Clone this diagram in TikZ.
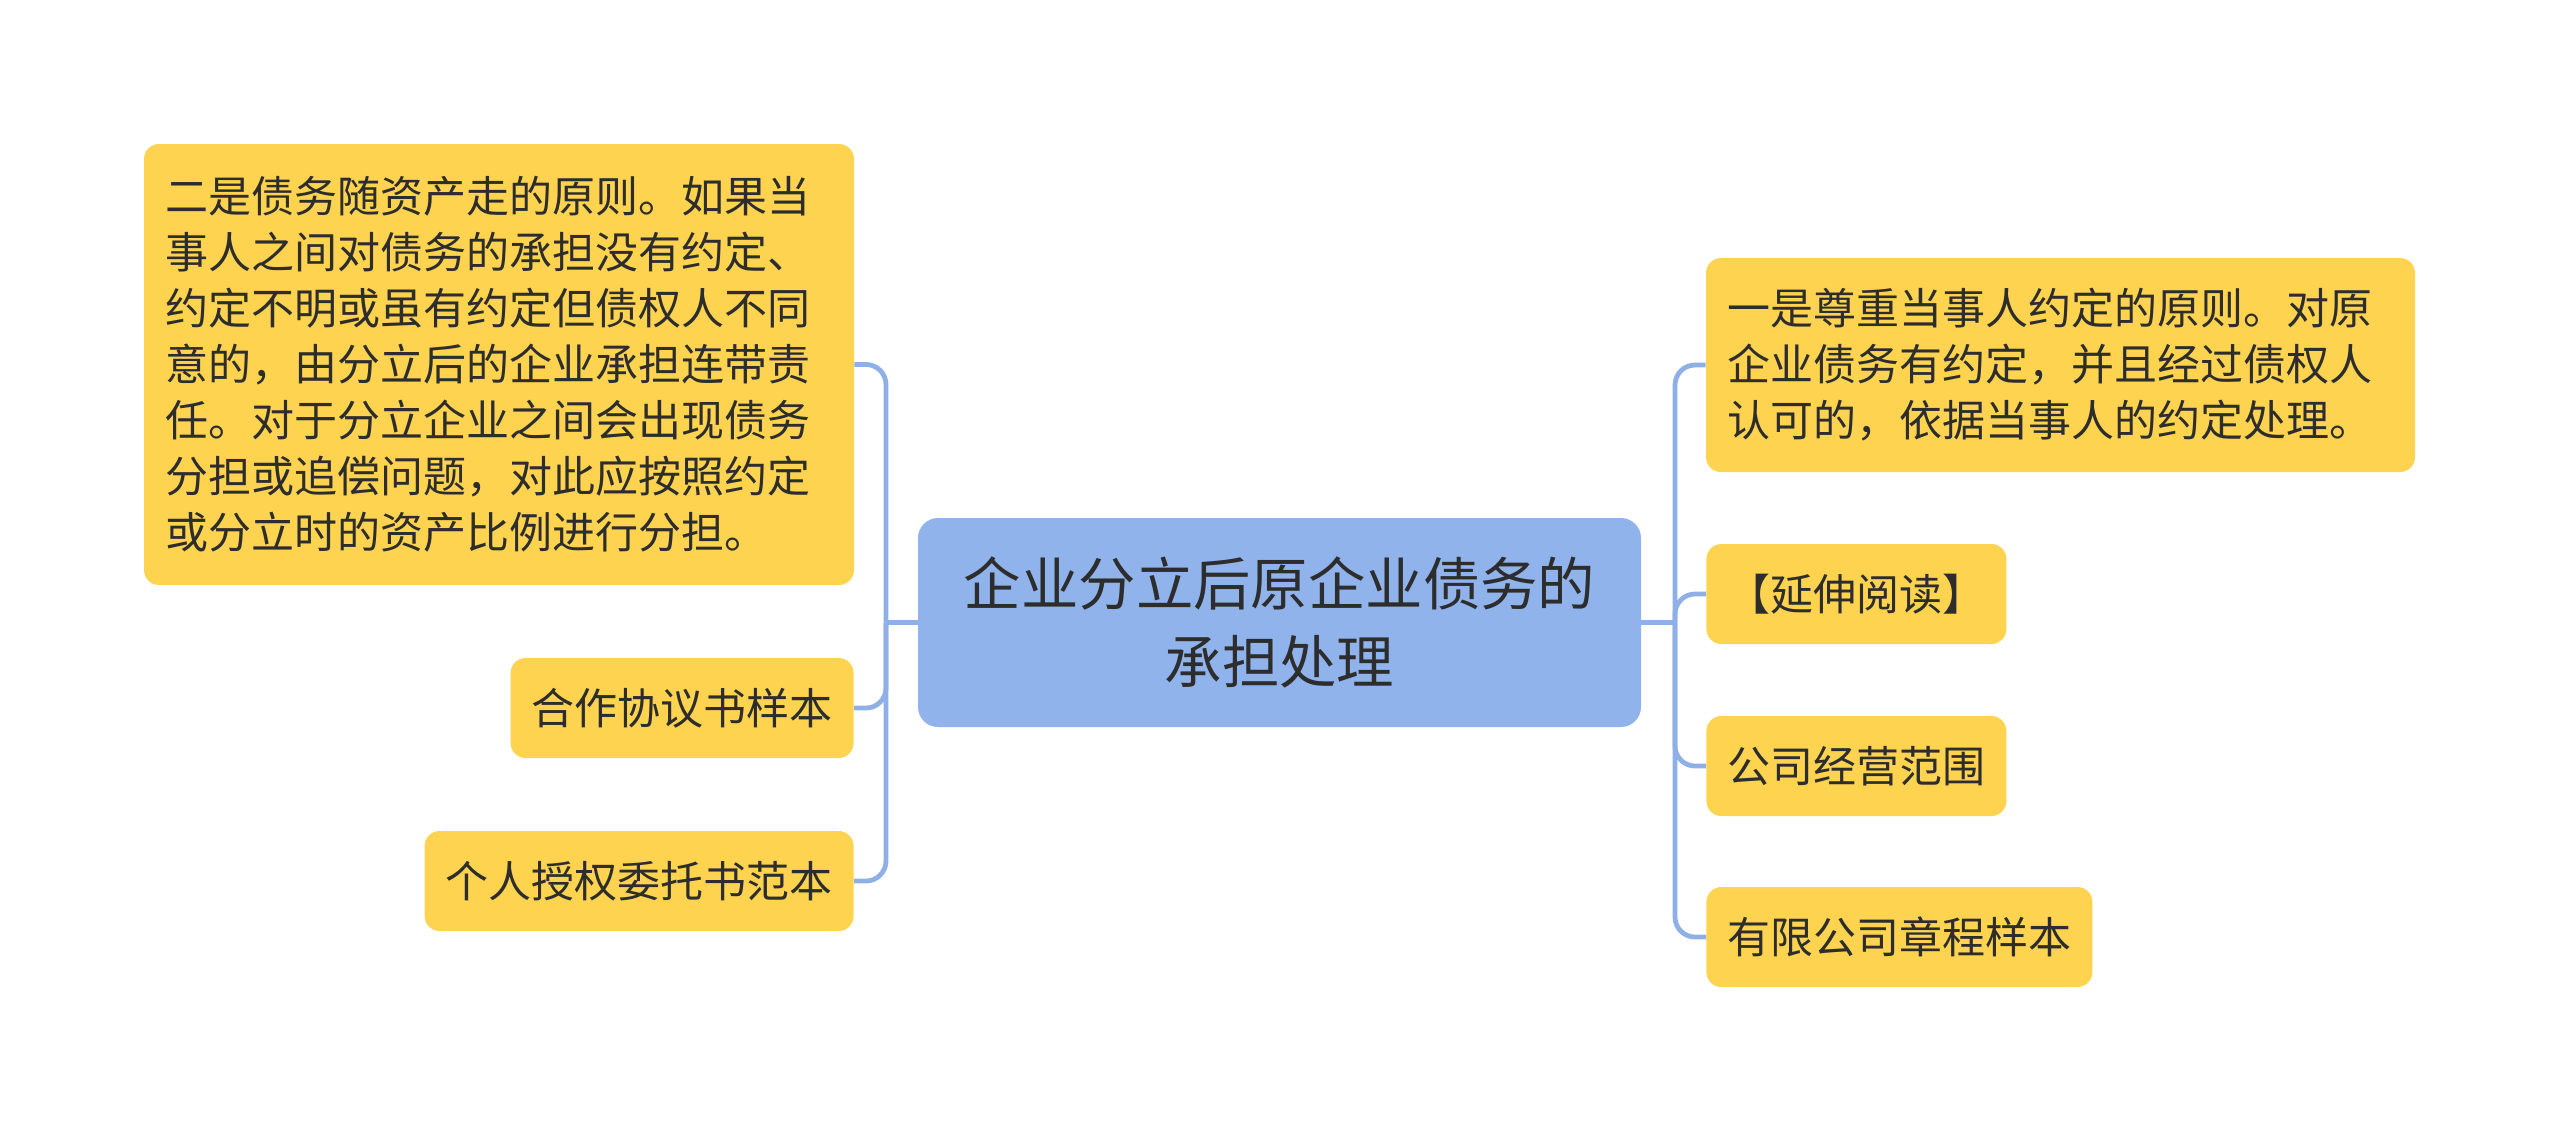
\documentclass[tikz,border=0pt]{standalone}
\usepackage{fontspec}
\setmainfont{Noto Sans CJK SC}
\usepackage{tikz}
\usetikzlibrary{positioning}
\definecolor{leafyellow}{RGB}{253,211,80}
\definecolor{rootblue}{RGB}{143,179,234}
\definecolor{linkblue}{RGB}{143,176,230}
\definecolor{inkgray}{RGB}{45,45,45}

\begin{document}
\begin{tikzpicture}[x=0.5pt,y=-0.5pt]
  \tikzset{
    leaf/.style={fill=leafyellow, text=inkgray, rounded corners=7.5pt,
          inner xsep=10.5pt, inner ysep=0pt, minimum height=50pt,
          font=\fontsize{21.5}{28}\selectfont},
    bigleaf/.style={leaf, align=left, inner xsep=10.5pt},
    root/.style={fill=rootblue, text=inkgray, rounded corners=10pt,
          align=center, minimum width=361.5pt, minimum height=104.5pt,
          font=\fontsize{28.7}{39}\selectfont},
    link/.style={draw=linkblue, line width=2.4pt, rounded corners=10pt}
  }

  \useasboundingbox (0,0) rectangle (2560,1132);

  \node[root] (topic) at (1279.5,622.5) {企业分立后原企业债务的\\承担处理};

  % left side
  \node[bigleaf, text width=334pt, minimum width=355pt, minimum height=220.5pt]
        (second) at (499,364.5) {二是债务随资产走的原则。如果当\\事人之间对债务的承担没有约定、\\约定不明或虽有约定但债权人不同\\意的，由分立后的企业承担连带责\\任。对于分立企业之间会出现债务\\分担或追偿问题，对此应按照约定\\或分立时的资产比例进行分担。};
  \node[leaf, anchor=east] (coop) at (854,708) {合作协议书样本};
  \node[leaf, anchor=east] (proxy) at (854,881) {个人授权委托书范本};

  % right side
  \node[bigleaf, text width=333.5pt, minimum width=354.5pt, minimum height=107pt]
        (first) at (2060.5,365) {一是尊重当事人约定的原则。对原\\企业债务有约定，并且经过债权人\\认可的，依据当事人的约定处理。};
  \node[leaf, anchor=west] (more) at (1706,594) {【延伸阅读】};
  \node[leaf, anchor=west] (scope) at (1706,766) {公司经营范围};
  \node[leaf, anchor=west] (charter) at (1706,937) {有限公司章程样本};

  \coordinate (ljoin) at (886,622.5);
  \coordinate (rjoin) at (1675,622.5);

  \draw[link] (topic.west) -- (ljoin);
  \draw[link] (topic.east) -- (rjoin);
  \foreach \n in {second,coop,proxy}
    \draw[link] (ljoin) |- (\n.east);
  \foreach \n in {first,more,scope,charter}
    \draw[link] (rjoin) |- (\n.west);
\end{tikzpicture}
\end{document}
